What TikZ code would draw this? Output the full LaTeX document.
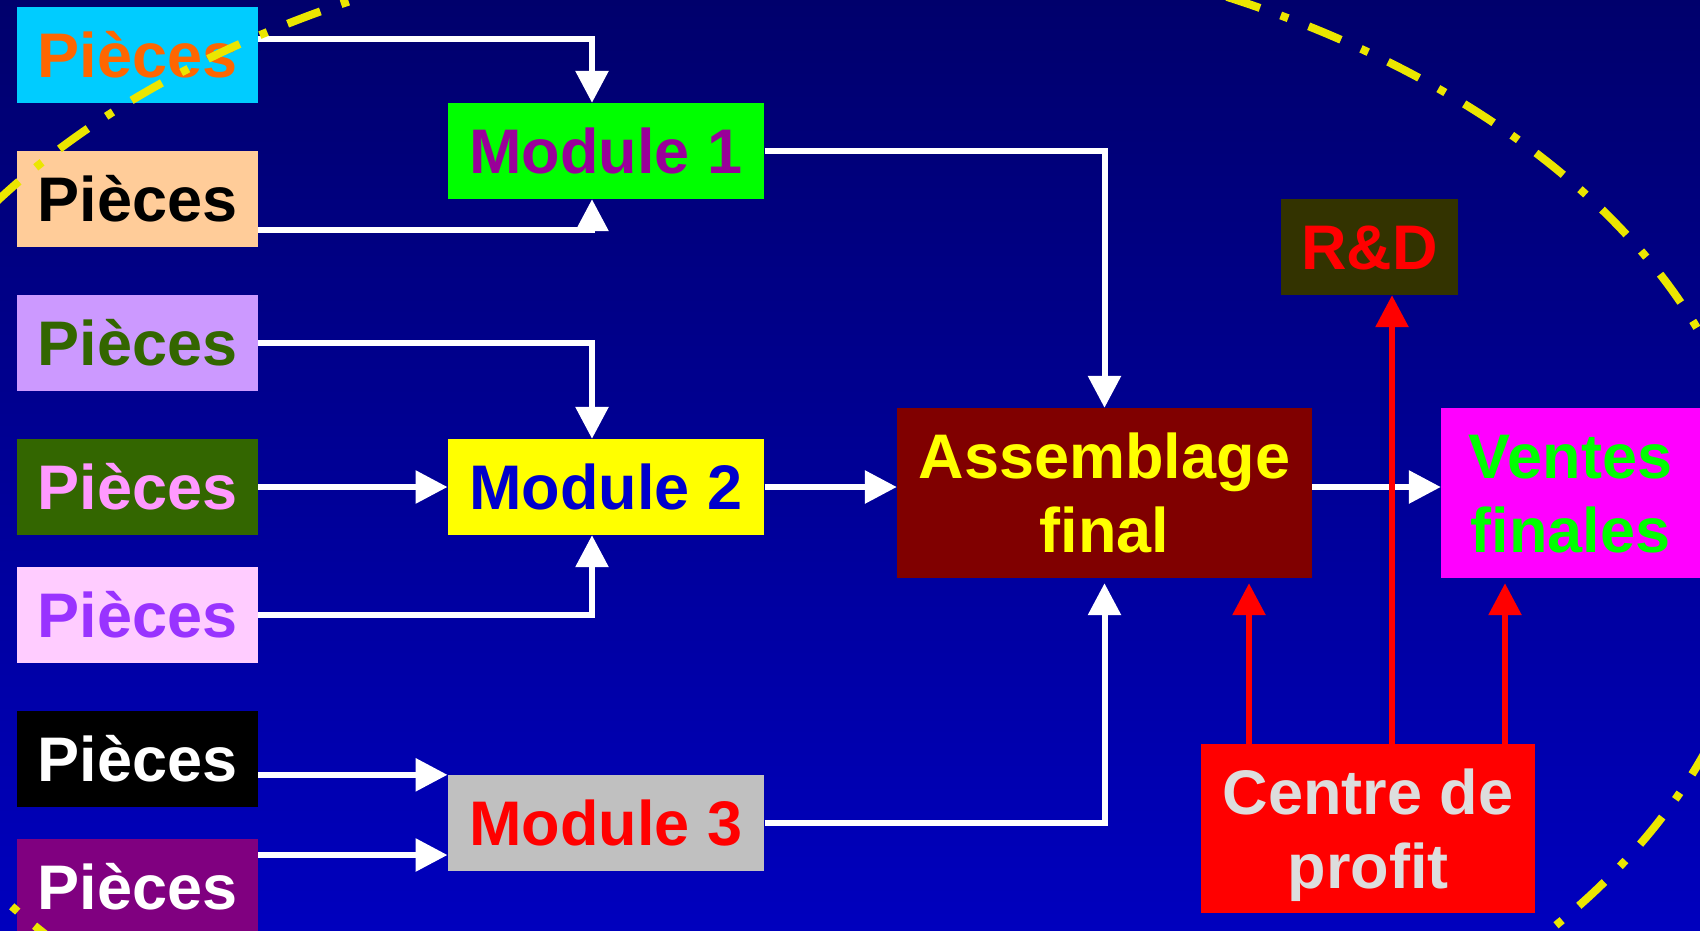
\documentclass[tikz,border=0pt]{standalone}
\usepackage{fontspec}
\setmainfont{Liberation Sans}
\usetikzlibrary{arrows.meta}

\definecolor{bgtop}{RGB}{0,0,108}
\definecolor{bgbottom}{RGB}{0,0,190}
\definecolor{ringyellow}{RGB}{235,230,0}
\definecolor{cyanbox}{RGB}{0,204,255}
\definecolor{orangetxt}{RGB}{255,102,0}
\definecolor{peach}{RGB}{255,204,153}
\definecolor{lavender}{RGB}{204,153,255}
\definecolor{olive}{RGB}{51,102,0}
\definecolor{pinktxt}{RGB}{255,153,255}
\definecolor{palepink}{RGB}{255,204,255}
\definecolor{violettxt}{RGB}{153,51,255}
\definecolor{plum}{RGB}{128,0,128}
\definecolor{modgreen}{RGB}{0,255,0}
\definecolor{modpurple}{RGB}{153,0,153}
\definecolor{modblue}{RGB}{0,0,204}
\definecolor{puryellow}{RGB}{255,255,0}
\definecolor{purmagenta}{RGB}{255,0,255}
\definecolor{purred}{RGB}{255,0,0}
\definecolor{silverbox}{RGB}{192,192,192}
\definecolor{maroon}{RGB}{128,0,0}
\definecolor{darkolive}{RGB}{51,51,0}
\definecolor{lightgrey}{RGB}{221,221,221}

% two centred lines, 74pt apart, baseline on the last line
\newcommand\twoline[2]{\vbox{\baselineskip=74pt\halign{\hfil##\hfil\cr#1\cr#2\cr}}}

\tikzset{
  card/.style={rectangle, inner sep=0pt, font=\fontsize{63}{74}\selectfont\bfseries,
               text height=45.1pt, text depth=0pt},
  tall/.style={text height=119.1pt},
  piece/.style={card, minimum width=241pt, minimum height=96pt},
  module/.style={card, minimum width=316.6pt, minimum height=96pt},
  wire/.style={draw=white, line width=6pt, -{Triangle[length=32pt,width=32pt]}},
  rwire/.style={wire, draw=purred},
  ring/.style={draw=ringyellow, line width=8pt, dash pattern=on 35pt off 22pt on 8pt off 22pt}
}

\begin{document}
\begin{tikzpicture}[x=1pt,y=-1pt]
\useasboundingbox (0,0) rectangle (1700,930);
\clip (0,0) rectangle (1700,930);
\fill[top color=bgtop, bottom color=bgbottom] (0,0) rectangle (1700,930);

% parts
\node[piece, fill=cyanbox,   text=orangetxt] (p1) at (137.5,55)  {Pièces};
\node[piece, fill=peach,     text=black]     (p2) at (137.5,199) {Pièces};
\node[piece, fill=lavender,  text=olive]     (p3) at (137.5,343) {Pièces};
\node[piece, fill=olive,     text=pinktxt]   (p4) at (137.5,487) {Pièces};
\node[piece, fill=palepink,  text=violettxt] (p5) at (137.5,615) {Pièces};
\node[piece, fill=black,     text=white]     (p6) at (137.5,759) {Pièces};
\node[piece, fill=plum,      text=white]     (p7) at (137.5,887) {Pièces};

% modules
\node[module, fill=modgreen,   text=modpurple] (m1) at (606,151) {Module 1};
\node[module, fill=puryellow,  text=modblue]   (m2) at (606,487) {Module 2};
\node[module, fill=silverbox,  text=purred]    (m3) at (606,823) {Module 3};

% assembly, R&D, sales, profit centre
\node[card, tall, fill=maroon, text=puryellow, minimum width=415pt, minimum height=170pt]
  (asm) at (1104.5,493) {\twoline{Assemblage}{final}};
\node[card, fill=darkolive, text=purred, minimum width=177pt, minimum height=96pt]
  (rd) at (1369.5,247) {R\&D};
\node[card, tall, fill=purmagenta, text=modgreen, minimum width=259pt, minimum height=170pt]
  (ven) at (1570.5,493) {\twoline{Ventes}{finales}};
\node[card, tall, fill=purred, text=lightgrey, minimum width=334pt, minimum height=169pt]
  (cp) at (1368,828.5) {\twoline{Centre de}{profit}};

% anchor points for the connectors
\coordinate (p1out) at ([yshift=16.5pt]p1.east);
\coordinate (p2out) at ([yshift=-31pt]p2.east);
\coordinate (m1top) at ([xshift=-14pt]m1.north);
\coordinate (m1bot) at ([xshift=-14pt]m1.south);
\coordinate (m2top) at ([xshift=-14pt]m2.north);
\coordinate (m2bot) at ([xshift=-14pt]m2.south);
\coordinate (m3low) at ([yshift=-32pt]m3.west);
\coordinate (asmbot) at ([yshift=-5pt]asm.south);
\coordinate (venin) at ([yshift=6pt]ven.west);
\coordinate (venbot) at ([yshift=-5pt]ven.south);
\coordinate (r1) at ([xshift=-119pt]cp.north);
\coordinate (r2) at ([xshift=24pt]cp.north);
\coordinate (r3) at ([xshift=137pt]cp.north);

% parts into modules
\draw[wire] (p1out) -| (m1top);
\draw[wire] (p2out) -| (m1bot);
\draw[wire] (p3.east) -| (m2top);
\draw[wire] (p4.east) -- (m2.west);
\draw[wire] (p5.east) -| (m2bot);
\draw[wire] (p6.east |- m3.north west) -- (m3.north west);
\draw[wire] (p7.east |- m3low) -- (m3low);

% modules into assembly
\draw[wire] (m1.east) -| (asm.north);
\draw[wire] (m2.east) -- (asm.west |- m2.east);
\draw[wire] (m3.east) -| (asmbot);
\draw[wire] (asm.east |- venin) -- (venin);

% profit centre links
\draw[rwire] (r1) -- (asmbot -| r1);
\draw[rwire] (r2) -- (rd.south -| r2);
\draw[rwire] (r3) -- (venbot -| r3);

% boundary ring
\draw[ring] (795,547) ellipse [x radius=965pt, y radius=615pt];
\end{tikzpicture}
\end{document}
